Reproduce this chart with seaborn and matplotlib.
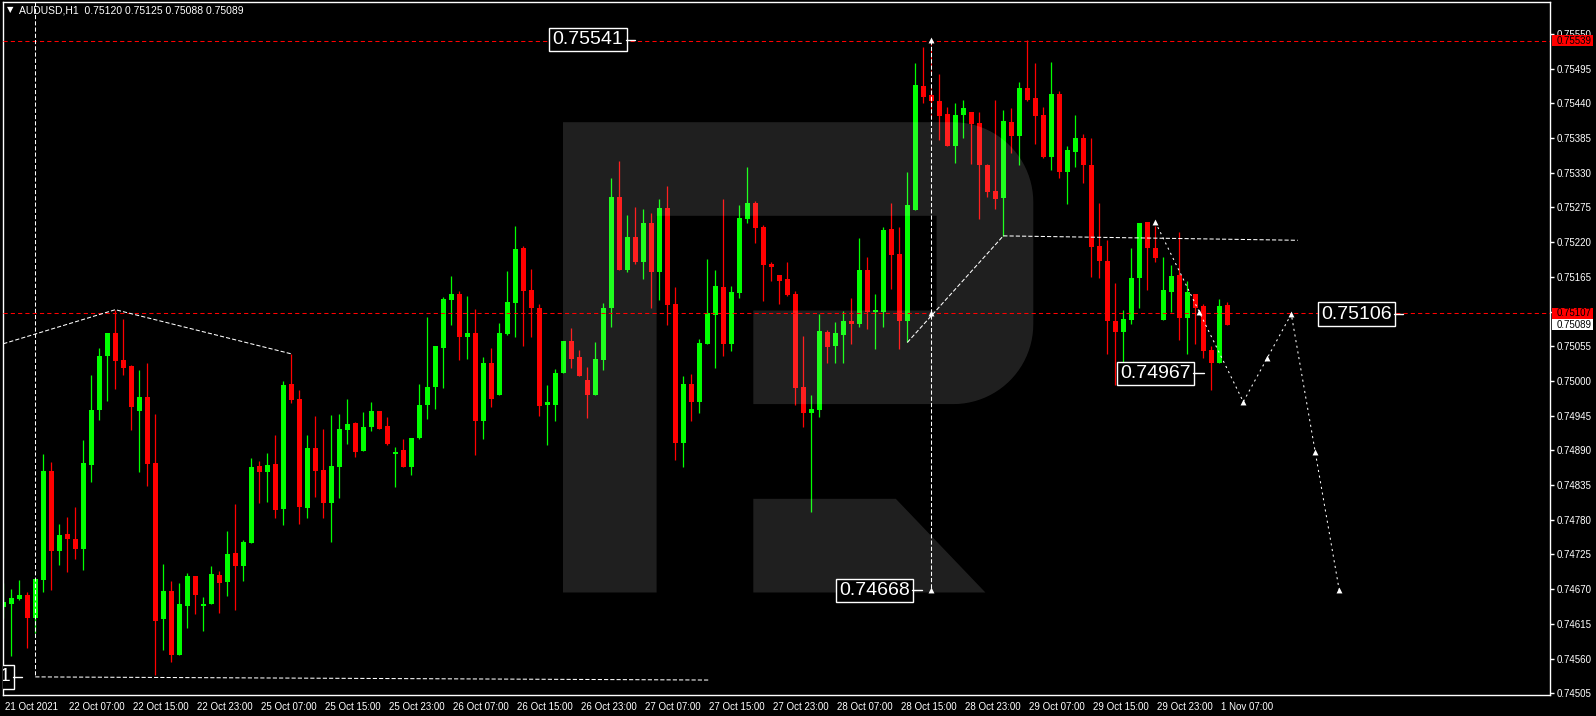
import numpy as np
import pandas as pd
import matplotlib
matplotlib.use("Agg")
import matplotlib.pyplot as plt
import matplotlib.transforms as mtransforms
from matplotlib.patches import Polygon, Rectangle
import seaborn as sns

# AUDUSD H1 candles, 21 Oct 23:00 -> 1 Nov 08:00
opens = [0.74641, 0.74647, 0.74655, 0.74661, 0.74625, 0.74685, 0.74857, 0.74730, 0.74758, 0.74750,
         0.74734, 0.74867, 0.74954, 0.75040, 0.75076, 0.75033, 0.75024, 0.74952, 0.74975, 0.74870,
         0.74623, 0.74667, 0.74566, 0.74643, 0.74691, 0.74643, 0.74647, 0.74693, 0.74681, 0.74727,
         0.74707, 0.74743, 0.74865, 0.74856, 0.74868, 0.74797, 0.74995, 0.74971, 0.74799, 0.74894,
         0.74859, 0.74807, 0.74864, 0.74922, 0.74933, 0.74889, 0.74927, 0.74952, 0.74929, 0.74885,
         0.74891, 0.74863, 0.74909, 0.74962, 0.74991, 0.75053, 0.75129, 0.75138, 0.75070, 0.75076,
         0.74936, 0.75029, 0.74977, 0.75075, 0.75123, 0.75211, 0.75144, 0.75116, 0.74962, 0.74962,
         0.75012, 0.75063, 0.75038, 0.75002, 0.74977, 0.75034, 0.75115, 0.75292, 0.75176, 0.75228,
         0.75188, 0.75250, 0.75172, 0.75274, 0.75122, 0.74901, 0.74995, 0.74967, 0.75059, 0.75105,
         0.75149, 0.75058, 0.75140, 0.75257, 0.75282, 0.75244, 0.75185, 0.75168, 0.75162, 0.75138,
         0.74990, 0.74949, 0.74954, 0.75078, 0.75055, 0.75073, 0.75095, 0.75090, 0.75176, 0.75109,
         0.75109, 0.75241, 0.75201, 0.75095, 0.75271, 0.75468, 0.75453, 0.75444, 0.75423, 0.75373,
         0.75422, 0.75426, 0.75409, 0.75342, 0.75301, 0.75290, 0.75411, 0.75388, 0.75464, 0.75449,
         0.75422, 0.75355, 0.75455, 0.75331, 0.75363, 0.75385, 0.75342, 0.75214, 0.75190, 0.75095,
         0.75078, 0.75097, 0.75163, 0.75252, 0.75211, 0.75097, 0.75141, 0.75168, 0.75100, 0.75138,
         0.75119, 0.75049, 0.75029, 0.75120]
highs = [0.74680, 0.74671, 0.74685, 0.74666, 0.74687, 0.74884, 0.74872, 0.74774, 0.74785, 0.74801,
         0.74907, 0.75010, 0.75052, 0.75076, 0.75113, 0.75098, 0.75025, 0.75017, 0.75029, 0.74948,
         0.74710, 0.74683, 0.74680, 0.74695, 0.74691, 0.74658, 0.74706, 0.74699, 0.74762, 0.74805,
         0.74748, 0.74878, 0.74873, 0.74886, 0.74914, 0.75000, 0.75043, 0.74986, 0.74914, 0.74945,
         0.74924, 0.74946, 0.74948, 0.74971, 0.74935, 0.74951, 0.74967, 0.74952, 0.74943, 0.74895,
         0.74908, 0.74910, 0.74995, 0.75102, 0.75056, 0.75133, 0.75166, 0.75143, 0.75135, 0.75114,
         0.75038, 0.75052, 0.75092, 0.75174, 0.75246, 0.75214, 0.75178, 0.75122, 0.74994, 0.75019,
         0.75063, 0.75084, 0.75049, 0.75022, 0.75062, 0.75124, 0.75322, 0.75349, 0.75263, 0.75276,
         0.75273, 0.75266, 0.75288, 0.75309, 0.75149, 0.75008, 0.75011, 0.75067, 0.75193, 0.75176,
         0.75288, 0.75151, 0.75279, 0.75339, 0.75285, 0.75247, 0.75189, 0.75168, 0.75189, 0.75143,
         0.75071, 0.74978, 0.75106, 0.75081, 0.75094, 0.75111, 0.75132, 0.75227, 0.75197, 0.75138,
         0.75244, 0.75282, 0.75244, 0.75331, 0.75504, 0.75529, 0.75461, 0.75487, 0.75434, 0.75441,
         0.75445, 0.75426, 0.75426, 0.75344, 0.75445, 0.75430, 0.75433, 0.75474, 0.75541, 0.75504,
         0.75434, 0.75506, 0.75460, 0.75373, 0.75422, 0.75392, 0.75385, 0.75282, 0.75224, 0.75155,
         0.75113, 0.75211, 0.75250, 0.75252, 0.75245, 0.75197, 0.75184, 0.75236, 0.75159, 0.75138,
         0.75122, 0.75056, 0.75130, 0.75125]
lows = [0.74624, 0.74564, 0.74653, 0.74577, 0.74600, 0.74666, 0.74669, 0.74708, 0.74698, 0.74718,
        0.74700, 0.74840, 0.74938, 0.74968, 0.74987, 0.75010, 0.74922, 0.74856, 0.74834, 0.74534,
        0.74574, 0.74555, 0.74566, 0.74609, 0.74631, 0.74604, 0.74646, 0.74633, 0.74659, 0.74637,
        0.74683, 0.74743, 0.74807, 0.74808, 0.74783, 0.74772, 0.74965, 0.74773, 0.74783, 0.74816,
        0.74783, 0.74745, 0.74815, 0.74900, 0.74880, 0.74889, 0.74921, 0.74924, 0.74899, 0.74832,
        0.74863, 0.74851, 0.74908, 0.74940, 0.74955, 0.74989, 0.75089, 0.75034, 0.75035, 0.74883,
        0.74908, 0.74958, 0.74977, 0.75073, 0.75070, 0.75056, 0.75070, 0.74945, 0.74898, 0.74937,
        0.75012, 0.75021, 0.75008, 0.74942, 0.74977, 0.75018, 0.75086, 0.75176, 0.75173, 0.75186,
        0.75161, 0.75116, 0.75129, 0.75088, 0.74875, 0.74864, 0.74936, 0.74950, 0.75058, 0.75021,
        0.75040, 0.75048, 0.75131, 0.75251, 0.75218, 0.75126, 0.75159, 0.75122, 0.75135, 0.74962,
        0.74927, 0.74792, 0.74943, 0.75028, 0.75029, 0.75028, 0.75058, 0.75086, 0.75082, 0.75051,
        0.75085, 0.75146, 0.75051, 0.75061, 0.75271, 0.75441, 0.75435, 0.75382, 0.75372, 0.75346,
        0.75385, 0.75344, 0.75257, 0.75292, 0.75273, 0.75230, 0.75361, 0.75342, 0.75444, 0.75376,
        0.75353, 0.75334, 0.75322, 0.75281, 0.75339, 0.75314, 0.75165, 0.75163, 0.75043, 0.74994,
        0.75024, 0.75090, 0.75116, 0.75144, 0.75189, 0.75097, 0.75109, 0.75065, 0.75043, 0.75059,
        0.75037, 0.74986, 0.75029, 0.75088]
closes = [0.74649, 0.74656, 0.74661, 0.74625, 0.74686, 0.74857, 0.74730, 0.74756, 0.74750, 0.74734,
          0.74870, 0.74954, 0.75040, 0.75076, 0.75032, 0.75021, 0.74958, 0.74975, 0.74869, 0.74620,
          0.74667, 0.74566, 0.74647, 0.74691, 0.74661, 0.74647, 0.74694, 0.74680, 0.74726, 0.74707,
          0.74745, 0.74864, 0.74856, 0.74867, 0.74796, 0.74994, 0.74970, 0.74800, 0.74894, 0.74857,
          0.74807, 0.74865, 0.74924, 0.74932, 0.74888, 0.74927, 0.74952, 0.74924, 0.74900, 0.74888,
          0.74864, 0.74910, 0.74962, 0.74991, 0.75056, 0.75130, 0.75138, 0.75070, 0.75076, 0.74936,
          0.75029, 0.74972, 0.75076, 0.75125, 0.75209, 0.75143, 0.75115, 0.74961, 0.74967, 0.75013,
          0.75063, 0.75035, 0.75008, 0.74977, 0.75035, 0.75116, 0.75292, 0.75176, 0.75228, 0.75188,
          0.75250, 0.75172, 0.75274, 0.75121, 0.74902, 0.74995, 0.74967, 0.75060, 0.75108, 0.75151,
          0.75058, 0.75141, 0.75258, 0.75282, 0.75243, 0.75184, 0.75180, 0.75159, 0.75137, 0.74989,
          0.74949, 0.74956, 0.75079, 0.75054, 0.75076, 0.75095, 0.75090, 0.75176, 0.75109, 0.75113,
          0.75239, 0.75200, 0.75095, 0.75279, 0.75469, 0.75450, 0.75444, 0.75420, 0.75372, 0.75422,
          0.75433, 0.75407, 0.75342, 0.75300, 0.75289, 0.75412, 0.75388, 0.75464, 0.75445, 0.75420,
          0.75355, 0.75455, 0.75331, 0.75366, 0.75385, 0.75342, 0.75212, 0.75190, 0.75095, 0.75078,
          0.75098, 0.75163, 0.75250, 0.75211, 0.75195, 0.75144, 0.75166, 0.75100, 0.75141, 0.75116,
          0.75048, 0.75029, 0.75119, 0.75089]

time_labels = ["21 Oct 2021", "22 Oct 07:00", "22 Oct 15:00", "22 Oct 23:00", "25 Oct 07:00",
               "25 Oct 15:00", "25 Oct 23:00", "26 Oct 07:00", "26 Oct 15:00", "26 Oct 23:00",
               "27 Oct 07:00", "27 Oct 15:00", "27 Oct 23:00", "28 Oct 07:00", "28 Oct 15:00",
               "28 Oct 23:00", "29 Oct 07:00", "29 Oct 15:00", "29 Oct 23:00", "1 Nov 07:00"]
price_ticks = [0.74505, 0.74560, 0.74615, 0.74670, 0.74725, 0.74780, 0.74835, 0.74890, 0.74945, 0.75000,
               0.75055, 0.75110, 0.75165, 0.75220, 0.75275, 0.75330, 0.75385, 0.75440, 0.75495, 0.75550]

# objects drawn on the chart: (candle index, price)
red_levels = [0.75539, 0.75107]
swing_idx, swing_price = [0, 14, 36], [0.75059, 0.75113, 0.75043]
support_idx, support_price = [4, 88.3], [0.74531, 0.74526]
rise_idx, rise_price = [113, 125], [0.75061, 0.75230]
flat_idx, flat_price = [125, 161.8], [0.75230, 0.75223]
target_idx, target_price = [116, 116], [0.75541, 0.74668]
forecast_idx = [144, 155, 161, 167]
forecast_price = [0.75252, 0.74967, 0.75106, 0.74668]

sns.set_theme(style="dark", rc={"axes.facecolor": "black", "figure.facecolor": "black"})
plt.rcParams["font.family"] = ["Liberation Sans", "DejaVu Sans"]

W, H = 1596, 716
fig = plt.figure(figsize=(W / 100, H / 100), dpi=100)
fig.patch.set_facecolor("black")
ax = fig.add_axes([2.7 / W, 1 - 695 / H, 1547.3 / W, 692.7 / H])
ax.set_facecolor("black")
ax.set_xlim(-0.075, 193.34)
ax.set_ylim(0.745023, 0.756002)

# candles
df = pd.DataFrame({"o": opens, "h": highs, "l": lows, "c": closes})
x = np.arange(len(df))
col = np.where(df.c > df.o, "#00ff00", "#ff0000")
ax.vlines(x, df.l, df.h, colors=col, lw=0.9, zorder=2)
ax.bar(x, np.maximum((df.c - df.o).abs(), 1.6e-5), bottom=np.minimum(df.o, df.c),
       width=0.6, color=col, lw=0, zorder=2)

# watermark logo (pixel geometry of the background "R")
def fp(px, py):
    return (px / W, 1 - py / H)

L, X1, X2, X3, R = 563, 656.6, 753.3, 936.6, 1033.3
T, Y1, Y2, Y3, Y4, B = 122.2, 215.8, 310.5, 404.1, 498.8, 592.5
rad = 80
th = np.linspace(0, np.pi / 2, 24)
top_arc = [(R - rad + rad * np.sin(t), T + rad - rad * np.cos(t)) for t in th]
bot_arc = [(R - rad + rad * np.cos(t), Y3 - rad + rad * np.sin(t)) for t in th]
outline = [(L, T)] + top_arc + bot_arc + [(X2, Y3), (X2, Y2), (X3, Y2), (X3, Y1), (X1, Y1), (X1, B), (L, B)]
leg = [(X2, Y4), (895.8, Y4), (985.4, B), (X2, B)]
for pts in (outline, leg):
    ax.add_patch(Polygon([fp(*p) for p in pts], closed=True, transform=fig.transFigure,
                         fc="white", alpha=0.125, ec="none", zorder=3))

# red price levels
for lv in red_levels:
    ax.axhline(lv, color="#ff0000", lw=0.75, ls=(0, (4, 3)), zorder=4)
ax.plot([116, 116], [red_levels[0], 0.75414], color="#ff0000", lw=0.75, ls=(0, (4, 3)), zorder=4)

# white dashed analysis lines
dash = dict(color="white", lw=0.75, ls=(0, (4, 2)), zorder=5)
ax.plot([4, 4], [0.756002, support_price[0]], **dash)
ax.plot(support_idx, support_price, **dash)
ax.plot(swing_idx, swing_price, **dash)
ax.plot(rise_idx, rise_price, **dash)
ax.plot(flat_idx, flat_price, **dash)
ax.plot(target_idx, target_price, **dash)
ax.plot(forecast_idx, forecast_price, color="white", lw=0.75, ls=(0, (2, 3.5)), zorder=5)

fx = np.array(forecast_idx, dtype=float)
fy = np.array(forecast_price)
mk_x = list(fx) + list((fx[:-1] + fx[1:]) / 2) + [116, 116, 116]
mk_y = list(fy) + list((fy[:-1] + fy[1:]) / 2) + [target_price[0], red_levels[1], target_price[1]]
sns.scatterplot(x=mk_x, y=mk_y, marker="^", s=18, color="white", linewidth=0, ax=ax, zorder=6)

# boxed price labels
def price_label(right_idx, y, txt, conn_to):
    ax.text(right_idx, y, txt, ha="right", va="center", fontsize=14, color="white", zorder=8,
            clip_on=True, bbox=dict(boxstyle="square,pad=0.17", fc="black", ec="white", lw=1))
    ax.plot([right_idx + 0.3, conn_to], [y, y], color="white", lw=1, zorder=8)

price_label(77.5, 0.75541, "0.75541", 79.0)
price_label(173.6, 0.75106, "0.75106", 175.0)
price_label(148.4, 0.75012, "0.74967", 150.1)
price_label(113.3, 0.74668, "0.74668", 114.9)
price_label(0.95, 0.74531, "0.74531", 2.3)

# axes styling
ax.grid(False)
ax.yaxis.tick_right()
ax.set_yticks(price_ticks)
ax.set_yticklabels([f"{v:.5f}" for v in price_ticks])
ax.set_xticks(np.arange(0, 8 * len(time_labels), 8))
ax.set_xticklabels(time_labels, ha="left")
ax.tick_params(axis="both", colors="white", labelcolor="white", labelsize=7, length=3,
               width=1, direction="out", pad=2)
for lab in ax.get_xticklabels():
    lab.set_transform(lab.get_transform() + mtransforms.ScaledTranslation(0.02, 0, fig.dpi_scale_trans))
for s in ax.spines.values():
    s.set_color("white")
    s.set_linewidth(1)
    s.set_visible(True)

# current price boxes on the price scale
trans = mtransforms.blended_transform_factory(ax.transAxes, ax.transData)
for val, fc in [(red_levels[0], "#ff0000"), (red_levels[1], "#ff0000"), (closes[-1], "white")]:
    ax.add_patch(Rectangle((1.0013, val - 0.000087), 41 / 1547.3, 0.000174, transform=trans,
                           fc=fc, ec="none", clip_on=False, zorder=9))
    ax.text(1.0042, val, f"{val:.5f}", transform=trans, ha="left", va="center", fontsize=7,
            color="black", clip_on=False, zorder=10)

# header
fig.text(10 / W, 1 - 10 / H, "\u25bc", color="white", fontsize=6, ha="center", va="center",
         family=["DejaVu Sans"])
fig.text(19 / W, 1 - 10.5 / H,
         f"AUDUSD,H1  {opens[-1]:.5f} {highs[-1]:.5f} {lows[-1]:.5f} {closes[-1]:.5f}",
         color="white", fontsize=7.5, ha="left", va="center")

fig.savefig("out.png", dpi=100, facecolor="black")
